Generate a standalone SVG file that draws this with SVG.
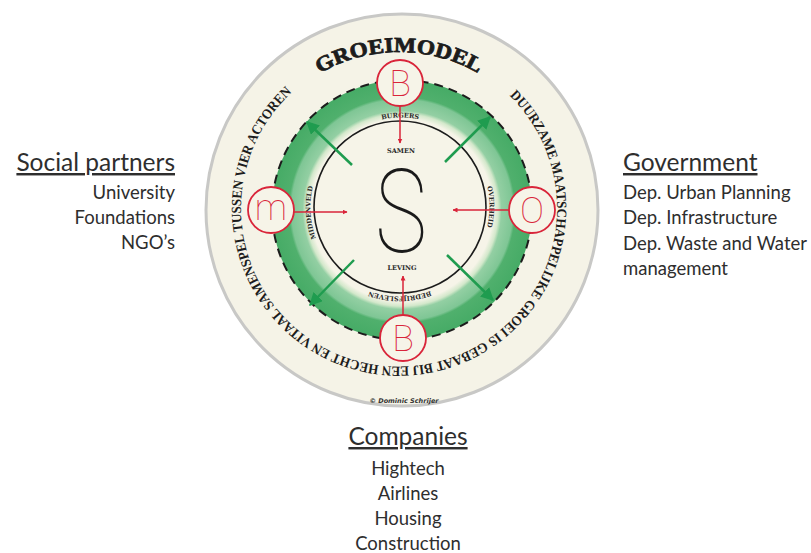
<svg xmlns="http://www.w3.org/2000/svg" width="811" height="553" viewBox="0 0 811 553">
<defs>
<style>
.lbl{font-family:Lato,"Open Sans","Liberation Sans",sans-serif;fill:#2e2e2e}
.head{font-size:24.5px;text-decoration:underline}
.item{font-size:18.5px}
.arc{font-family:"Liberation Serif","DejaVu Serif",serif;font-weight:bold;fill:#1c1c1c}
.small{font-family:"DejaVu Serif","Liberation Serif",serif;font-weight:bold;font-size:6.5px;fill:#2a2a2a}
.letter{font-family:Roboto,"Open Sans","Liberation Sans",sans-serif;font-weight:100;fill:#d9253a;text-anchor:middle}
.node{fill:#f6f4e8;stroke:#d9253a;stroke-width:1.8}
.red{stroke:#d9253a;stroke-width:1.5;fill:none}
.grn{stroke:#1f9c4f;stroke-width:2.5;fill:none}
</style>
<radialGradient id="ringGrad" gradientUnits="userSpaceOnUse" cx="402" cy="210" r="130">
<stop offset="0" stop-color="#f6f4e8"/>
<stop offset="0.70" stop-color="#f6f4e8"/>
<stop offset="0.74" stop-color="#d3e8cb"/>
<stop offset="0.765" stop-color="#93cfa3"/>
<stop offset="0.85" stop-color="#7fc695"/>
<stop offset="0.87" stop-color="#50b06d"/>
<stop offset="1" stop-color="#46ab66"/>
</radialGradient>
<marker id="ahRed" viewBox="0 0 10 10" refX="9" refY="5" markerWidth="5" markerHeight="5" orient="auto" markerUnits="userSpaceOnUse">
<path d="M0,0 L10,5 L0,10 z" fill="#d9253a"/>
</marker>
<marker id="ahGrn" viewBox="0 0 10 10" refX="9" refY="5" markerWidth="13" markerHeight="13" orient="auto" markerUnits="userSpaceOnUse">
<path d="M0,0 L10,5 L0,10 z" fill="#1f9c4f"/>
</marker>
<path id="outerText" d="M509.5,95.6 A158,158 0 1 1 290.6,93.7"/>
<path id="titleArc" d="M308.4,80.6 A158,158 0 0 1 489.6,80.6"/>
<path id="innerArc" d="M337.07,144.07 A89,89 0 1 1 462.93,269.93 A89,89 0 1 1 337.07,144.07"/>
</defs>

<g id="disc">
<circle cx="402" cy="210" r="196" fill="#f5f3e7" stroke="#c8c8c6" stroke-width="3"/>
<text class="arc" font-size="21" font-family="'DejaVu Serif',serif" stroke="#1c1c1c" stroke-width="0.8"><textPath href="#titleArc" startOffset="50%" text-anchor="middle" textLength="166" lengthAdjust="spacingAndGlyphs">GROEIMODEL</textPath></text>
<text class="arc" font-size="14"><textPath href="#outerText" textLength="757" lengthAdjust="spacingAndGlyphs">DUURZAME MAATSCHAPPELIJKE GROEI IS GEBAAT BIJ EEN HECHT EN VITAAL SAMENSPEL TUSSEN VIER ACTOREN:</textPath></text>
<text x="404" y="403" font-family="'DejaVu Sans',sans-serif" font-size="6.5" font-weight="bold" font-style="italic" fill="#333" text-anchor="middle">© Dominic Schrijer</text>
</g>

<g id="ring">
<circle cx="402" cy="210" r="130" fill="url(#ringGrad)"/>
<circle cx="402" cy="210" r="130" fill="none" stroke="#1c1c1c" stroke-width="2" stroke-dasharray="9 6"/>
<circle cx="400" cy="207" r="86" fill="#f6f4e8" stroke="#1c1c1c" stroke-width="1.6"/>
<text class="small"><textPath href="#innerArc" startOffset="12.5%" text-anchor="middle">BURGERS</textPath></text>
<text class="small"><textPath href="#innerArc" startOffset="37.5%" text-anchor="middle">OVERHEID</textPath></text>
<text class="small"><textPath href="#innerArc" startOffset="62.5%" text-anchor="middle">BEDRIJFSLEVEN</textPath></text>
<text class="small"><textPath href="#innerArc" startOffset="86.5%" text-anchor="middle">MIDDENVELD</textPath></text>
<text class="small" x="401" y="153" text-anchor="middle">SAMEN</text>
<text class="small" x="402" y="270" text-anchor="middle">LEVING</text>
</g>

<g id="connectors">
<line class="grn" x1="352" y1="165" x2="307" y2="122" marker-end="url(#ahGrn)"/>
<line class="grn" x1="445" y1="162" x2="490" y2="117" marker-end="url(#ahGrn)"/>
<line class="grn" x1="354" y1="260" x2="310" y2="305" marker-end="url(#ahGrn)"/>
<line class="grn" x1="447" y1="255" x2="493" y2="300" marker-end="url(#ahGrn)"/>
<line class="red" x1="400" y1="106" x2="400" y2="143" marker-end="url(#ahRed)"/>
<line class="red" x1="294" y1="212" x2="347" y2="212" marker-end="url(#ahRed)"/>
<line class="red" x1="509" y1="210" x2="453" y2="210" marker-end="url(#ahRed)"/>
<line class="red" x1="403" y1="315" x2="403" y2="276" marker-end="url(#ahRed)"/>
</g>

<g id="node-burgers">
<circle class="node" cx="400" cy="83" r="23"/>
<text class="letter" x="400" y="96" font-size="36">B</text>
</g>
<g id="node-middenveld">
<circle class="node" cx="271" cy="210" r="23"/>
<text class="letter" x="271" y="220" font-size="36">m</text>
</g>
<g id="node-overheid">
<circle class="node" cx="532" cy="210" r="23"/>
<text class="letter" x="532" y="223" font-size="36">O</text>
</g>
<g id="node-bedrijfsleven">
<circle class="node" cx="403" cy="338" r="23"/>
<text class="letter" x="403" y="351" font-size="36">B</text>
</g>
<g id="center-s">
<text transform="translate(401,252) scale(0.75,1)" font-family="Roboto,'Open Sans',sans-serif" font-weight="100" font-size="117" fill="#1a1a1a" text-anchor="middle">S</text>
</g>

<g id="social-partners" class="lbl" text-anchor="end">
<text class="head" x="175" y="171">Social partners</text>
<text class="item" x="175" y="199">University</text>
<text class="item" x="175" y="224">Foundations</text>
<text class="item" x="175" y="249">NGO’s</text>
</g>
<g id="government" class="lbl">
<text class="head" x="623" y="171">Government</text>
<text class="item" x="623" y="199">Dep. Urban Planning</text>
<text class="item" x="623" y="224">Dep. Infrastructure</text>
<text class="item" x="623" y="250">Dep. Waste and Water</text>
<text class="item" x="623" y="275">management</text>
</g>
<g id="companies" class="lbl" text-anchor="middle">
<text class="head" x="408" y="445">Companies</text>
<text class="item" x="408" y="475">Hightech</text>
<text class="item" x="408" y="500">Airlines</text>
<text class="item" x="408" y="525">Housing</text>
<text class="item" x="408" y="550">Construction</text>
</g>
</svg>
